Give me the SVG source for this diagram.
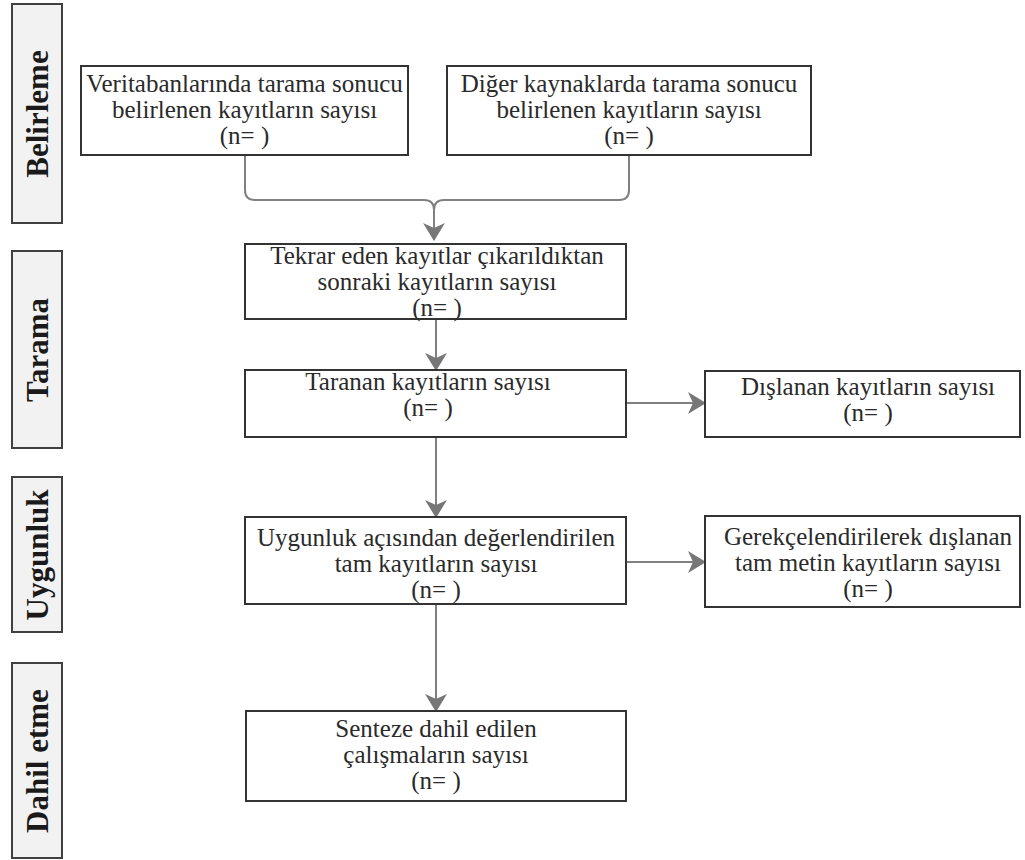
<svg xmlns="http://www.w3.org/2000/svg" width="1025" height="860" viewBox="0 0 1025 860">
<style>
.side{fill:#f2f2f2;stroke:#404040;stroke-width:2}
.box{fill:#ffffff;stroke:#333333;stroke-width:2}
.lbl{font-family:"Liberation Serif","Times New Roman",serif;font-weight:bold;font-size:31px;fill:#1a1a1a;text-anchor:middle}
.t{font-family:"Liberation Serif","Times New Roman",serif;font-size:25px;fill:#2a2a2a;text-anchor:middle}
.c{fill:none;stroke:#808080;stroke-width:2}
</style>
<defs>
<marker id="ah" markerUnits="userSpaceOnUse" markerWidth="18" markerHeight="22" viewBox="0 0 18 22" refX="17" refY="11" orient="auto">
<path d="M0,0 L18,11 L0,22 L5,11 Z" fill="#777777"/>
</marker>
</defs>
<g id="phase-belirleme"><rect class="side" x="12" y="4" width="50" height="219"/><text class="lbl" transform="translate(48,114) rotate(-90)">Belirleme</text></g>
<g id="phase-tarama"><rect class="side" x="12" y="251" width="50" height="197"/><text class="lbl" transform="translate(48,350) rotate(-90)">Tarama</text></g>
<g id="phase-uygunluk"><rect class="side" x="12" y="477" width="50" height="155"/><text class="lbl" transform="translate(48,555) rotate(-90)">Uygunluk</text></g>
<g id="phase-dahil"><rect class="side" x="12" y="663" width="50" height="195"/><text class="lbl" transform="translate(48,761) rotate(-90)">Dahil etme</text></g>

<g id="connectors">
<path class="c" d="M245,155 V190 Q245,200 255,200 H424 Q434,200 434,210 V240" marker-end="url(#ah)"/>
<path class="c" d="M629,155 V190 Q629,200 619,200 H444 Q434,200 434,210"/>
<path class="c" d="M436,319 V370" marker-end="url(#ah)"/>
<path class="c" d="M626,403 H705" marker-end="url(#ah)"/>
<path class="c" d="M436,437 V517" marker-end="url(#ah)"/>
<path class="c" d="M626,562 H705" marker-end="url(#ah)"/>
<path class="c" d="M436,604 V711" marker-end="url(#ah)"/>
</g>

<g id="n1"><rect class="box" x="81" y="66" width="327" height="89"/>
<text class="t" x="244.5" y="92">Veritabanlarında tarama sonucu</text>
<text class="t" x="244.5" y="118">belirlenen kayıtların sayısı</text>
<text class="t" x="244.5" y="144">(n= )</text></g>
<g id="n2"><rect class="box" x="447" y="66" width="364" height="89"/>
<text class="t" x="629" y="92">Diğer kaynaklarda tarama sonucu</text>
<text class="t" x="629" y="118">belirlenen kayıtların sayısı</text>
<text class="t" x="629" y="144">(n= )</text></g>
<g id="n3"><rect class="box" x="245" y="244" width="381" height="75"/>
<text class="t" x="437" y="264">Tekrar eden kayıtlar çıkarıldıktan</text>
<text class="t" x="437" y="290">sonraki kayıtların sayısı</text>
<text class="t" x="437" y="316">(n= )</text></g>
<g id="n4"><rect class="box" x="245" y="370" width="381" height="67"/>
<text class="t" x="428" y="390">Taranan kayıtların sayısı</text>
<text class="t" x="428" y="416">(n= )</text></g>
<g id="n5"><rect class="box" x="705" y="371" width="315" height="66"/>
<text class="t" x="868" y="395">Dışlanan kayıtların sayısı</text>
<text class="t" x="868" y="421">(n= )</text></g>
<g id="n6"><rect class="box" x="245" y="517" width="381" height="87"/>
<text class="t" x="436" y="546">Uygunluk açısından değerlendirilen</text>
<text class="t" x="436" y="572">tam kayıtların sayısı</text>
<text class="t" x="436" y="598">(n= )</text></g>
<g id="n7"><rect class="box" x="705" y="516" width="315" height="91"/>
<text class="t" x="868" y="545">Gerekçelendirilerek dışlanan</text>
<text class="t" x="868" y="571">tam metin kayıtların sayısı</text>
<text class="t" x="868" y="597">(n= )</text></g>
<g id="n8"><rect class="box" x="246" y="711" width="380" height="90"/>
<text class="t" x="436" y="737">Senteze dahil edilen</text>
<text class="t" x="436" y="763">çalışmaların sayısı</text>
<text class="t" x="436" y="789">(n= )</text></g>
</svg>
